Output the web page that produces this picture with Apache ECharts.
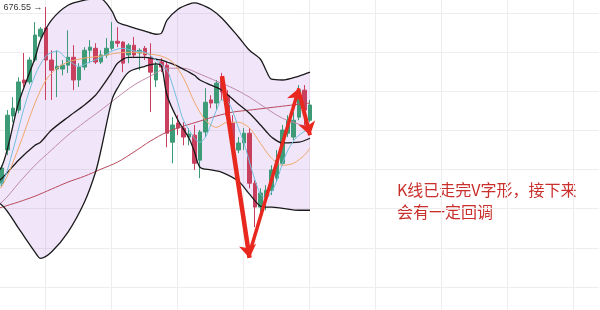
<!DOCTYPE html>
<html>
<head>
<meta charset="utf-8">
<script src="https://cdn.jsdelivr.net/npm/echarts@6/dist/echarts.min.js"></script>
<style>
  html, body { margin: 0; padding: 0; background: #fff; }
  #chart { width: 600px; height: 310px; }
</style>
</head>
<body>
<div id="chart"></div>
<script>
// Three empty slots before the first bar so the averages run in from the left edge.
const LEAD = 3;
const SLOTS = 112;

// Daily bars: [open, close, low, high]
const candles = [
  [631.5, 635.4, 630.5, 636.1],
  [640.0, 648.9, 638.7, 650.2],
  [648.7, 650.7, 647.1, 653.5],
  [650.2, 657.4, 649.4, 658.6],
  [657.9, 657.1, 656.1, 664.8],
  [657.4, 663.0, 656.8, 663.7],
  [663.0, 669.4, 662.5, 672.7],
  [669.1, 670.9, 668.6, 671.4],
  [671.2, 663.0, 652.8, 676.55],
  [663.0, 660.4, 652.8, 665.5],
  [660.7, 661.4, 653.5, 665.5],
  [660.7, 661.7, 659.1, 663.0],
  [661.7, 663.7, 659.7, 670.6],
  [663.7, 657.9, 655.3, 666.8],
  [657.9, 661.2, 656.1, 662.2],
  [661.2, 665.5, 660.4, 666.3],
  [665.5, 666.3, 662.2, 668.1],
  [666.0, 662.5, 662.0, 667.3],
  [662.5, 664.3, 662.0, 665.5],
  [664.3, 666.0, 663.5, 668.6],
  [666.0, 667.8, 665.5, 672.7],
  [667.8, 667.3, 666.3, 671.4],
  [667.6, 662.2, 659.9, 667.8],
  [664.3, 666.8, 662.2, 667.3],
  [666.8, 664.3, 663.5, 668.9],
  [664.8, 665.5, 660.4, 666.0],
  [666.0, 664.3, 663.0, 666.6],
  [663.5, 659.9, 649.7, 667.3],
  [657.9, 661.7, 656.1, 662.5],
  [662.5, 661.2, 659.9, 663.5],
  [661.7, 644.3, 640.7, 662.5],
  [642.0, 646.4, 636.6, 648.4],
  [646.9, 645.6, 643.8, 648.9],
  [645.6, 643.3, 641.2, 647.1],
  [643.3, 644.1, 641.2, 645.6],
  [643.8, 636.6, 634.9, 646.4],
  [637.4, 644.6, 632.8, 645.1],
  [644.6, 652.2, 643.3, 655.8],
  [652.8, 652.0, 650.7, 654.0],
  [652.0, 657.1, 650.2, 657.9],
  [658.4, 654.8, 652.8, 659.7],
  [654.0, 648.9, 646.4, 655.3],
  [646.9, 640.7, 638.7, 648.9],
  [640.0, 641.8, 639.2, 643.3],
  [641.8, 644.3, 640.0, 645.6],
  [644.3, 631.5, 630.2, 645.6],
  [631.5, 625.4, 620.3, 632.3],
  [625.4, 629.0, 624.1, 630.2],
  [627.9, 629.7, 624.6, 631.0],
  [629.7, 634.9, 628.5, 636.1],
  [632.8, 637.4, 631.8, 640.0],
  [636.6, 645.1, 636.1, 646.4],
  [644.3, 647.6, 643.3, 648.9],
  [643.3, 647.6, 642.5, 649.7],
  [648.4, 655.3, 647.6, 656.6],
  [655.3, 650.2, 646.4, 656.6],
  [647.6, 651.5, 647.1, 652.8]
];

// Bollinger band samples, keyed by bar index
const bandIndex  = [-3, 0, 3, 6, 7, 9, 12, 15, 17, 18, 20, 21, 23, 26, 28, 29, 30, 32, 34, 35, 36, 38, 40, 43, 45, 47, 48, 49, 51, 54, 56];
const bandUpper  = [631.8, 635.9, 652.0, 663.5, 668.1, 673.2, 677.0, 678.3, 678.6, 678.6, 675.5, 672.7, 671.7, 670.4, 669.6, 669.9, 673.2, 676.0, 677.3, 677.6, 677.3, 676.0, 673.7, 668.9, 665.5, 663.2, 660.4, 658.1, 657.9, 658.9, 659.9];
const bandMiddle = [629.7, 632.8, 637.4, 641.2, 642.0, 645.1, 648.4, 651.5, 654.0, 655.8, 659.9, 662.2, 663.7, 663.7, 663.2, 663.0, 662.5, 661.4, 659.9, 659.1, 657.9, 656.6, 655.3, 651.7, 649.4, 646.4, 644.8, 643.3, 641.8, 642.0, 643.0];
const bandLower  = [627.2, 625.9, 620.0, 613.9, 612.3, 613.9, 619.0, 626.7, 634.3, 640.0, 652.8, 655.8, 659.9, 661.4, 662.0, 661.4, 654.0, 647.6, 643.0, 639.5, 635.6, 634.9, 634.3, 632.0, 628.7, 625.6, 625.4, 625.4, 625.1, 624.6, 624.6];

// Moving averages: [bar index, value]
const ma5 = [
  [-3, 627.9], [0, 631.5], [2, 640.0], [4, 650.7], [6, 659.1], [8, 664.0], [10, 665.3], [12, 663.0],
  [14, 661.4], [16, 662.5], [18, 663.7], [20, 665.3], [22, 666.0], [24, 665.3], [26, 665.0], [28, 663.0],
  [30, 660.4], [31, 656.6], [32, 652.0], [33, 647.6], [35, 643.0], [36, 642.0], [37, 643.3], [38, 646.6],
  [39, 650.2], [40, 652.8], [41, 652.5], [42, 649.7], [43, 645.6], [44, 641.8], [45, 636.9], [46, 632.3],
  [47, 628.7], [48, 627.7], [49, 629.2], [50, 632.3], [51, 636.6], [52, 640.0], [53, 642.3], [54, 643.8], [56, 645.6]
];
const ma10 = [
  [-3, 627.2], [0, 630.8], [3, 640.5], [6, 652.0], [8, 657.9], [10, 660.9], [12, 662.5], [15, 663.5],
  [18, 664.0], [21, 664.8], [24, 665.0], [27, 664.5], [29, 664.0], [31, 662.5], [33, 658.4], [35, 652.2],
  [37, 647.6], [39, 645.8], [41, 647.1], [43, 647.1], [45, 645.6], [47, 641.7], [49, 637.9], [51, 636.1],
  [53, 636.6], [55, 638.7], [56, 640.5]
];
const ma30 = [
  [-3, 624.6], [0, 626.7], [3, 631.5], [6, 636.1], [9, 640.0], [12, 643.8], [15, 647.1], [18, 650.2],
  [21, 653.5], [24, 656.6], [27, 658.9], [30, 660.9], [33, 660.9], [36, 659.4], [39, 657.6], [42, 655.8],
  [45, 653.5], [48, 650.7], [51, 648.1], [54, 646.6], [56, 645.8]
];
const ma60 = [
  [-3, 624.1], [0, 625.4], [3, 626.7], [6, 628.2], [9, 630.0], [12, 631.8], [15, 633.3], [18, 635.1],
  [21, 636.9], [24, 639.5], [27, 642.3], [30, 644.6], [33, 646.1], [36, 647.4], [39, 648.7], [42, 649.7],
  [45, 650.2], [48, 650.7], [51, 651.2], [54, 651.7], [56, 652.0]
];

// Hand-drawn V path: [from bar, from price, to bar, to price]
const vStrokes = [
  [40, 658.9, 45, 612.4],
  [45, 613.6, 54, 655.8],
  [54, 654.8, 56, 643.8]
];

const note = 'K线已走完V字形，接下来\n会有一定回调';

// ---------- build the chart ----------
const strokeWidths = [4.5, 3.5, 4];
const cats = Array.from({ length: SLOTS }, (_, k) => String(k));
const shift = pts => pts.map(([i, v]) => [i + LEAD, v]);
const band = arr => bandIndex.map((i, n) => [i + LEAD, arr[n]]);
const bandSpread = bandIndex.map((i, n) => [i + LEAD, +(bandUpper[n] - bandLower[n]).toFixed(2)]);

const hidden = { axisLine: { show: false }, axisTick: { show: false }, axisLabel: { show: false } };
const gridLine = { show: true, lineStyle: { color: '#ededed', width: 1 } };

function curve(name, data, color, width) {
  return {
    name, type: 'line', data, symbol: 'none', smooth: 0.3, silent: true,
    lineStyle: { color, width }, z: 3
  };
}

const maFast = curve('MA5', shift(ma5), '#72bfdc', 1);
maFast.markLine = {
  silent: true,
  symbol: ['none', 'arrow'],
  symbolSize: 13,
  label: { show: false },
  lineStyle: { type: 'solid', color: '#e8281e' },
  data: vStrokes.map((s, n) => [
    { coord: [s[0] + LEAD, s[1]], lineStyle: { width: strokeWidths[n], color: '#e8281e', type: 'solid' } },
    { coord: [s[2] + LEAD, s[3]] }
  ])
};

const option = {
  animation: false,
  backgroundColor: '#ffffff',
  grid: [
    { left: -17.25, right: 1.25, top: -26, bottom: -16, outerBoundsMode: 'none', containLabel: false },
    { left: -21, right: -39, top: 0, bottom: 0, outerBoundsMode: 'none', containLabel: false }
  ],
  xAxis: [
    Object.assign({ type: 'category', gridIndex: 0, data: cats, boundaryGap: true, splitLine: { show: false } }, hidden),
    Object.assign({ type: 'value', gridIndex: 1, min: 0, max: 660, interval: 66, splitLine: gridLine }, hidden)
  ],
  yAxis: [
    Object.assign({ type: 'value', gridIndex: 0, min: 595, max: 685, interval: 10, splitLine: gridLine }, hidden),
    Object.assign({ type: 'value', gridIndex: 1, min: 0, max: 1, splitLine: { show: false } }, hidden)
  ],
  graphic: [{
    type: 'text', left: 397, top: 179, silent: true,
    style: {
      text: note, fill: '#c9302c', fontSize: 16, lineHeight: 22,
      fontFamily: '"Noto Sans CJK SC", sans-serif'
    }
  }],
  series: [
    {
      name: 'BOLL base', type: 'line', data: band(bandLower), stack: 'boll',
      symbol: 'none', smooth: 0.3, silent: true, lineStyle: { opacity: 0 }, z: 1
    },
    {
      name: 'BOLL fill', type: 'line', data: bandSpread, stack: 'boll',
      symbol: 'none', smooth: 0.3, silent: true, lineStyle: { opacity: 0 },
      areaStyle: { color: 'rgba(185,125,230,0.2)', opacity: 1 }, z: 1
    },
    {
      name: 'K', type: 'candlestick', barWidth: 4, silent: true, z: 2,
      dimensions: ['slot', 'open', 'close', 'lowest', 'highest'],
      encode: { x: 'slot', y: ['open', 'close', 'lowest', 'highest'] },
      data: candles.map((c, i) => [i + LEAD].concat(c)),
      itemStyle: {
        color: '#3d9b77', color0: '#c9405f',
        borderColor: '#3d9b77', borderColor0: '#c9405f', borderWidth: 1
      },
      markPoint: {
        silent: true,
        symbol: 'circle', symbolSize: 1,
        itemStyle: { color: 'rgba(0,0,0,0)' },
        label: {
          show: true, position: 'left', distance: 3,
          color: '#3a3a3a', fontSize: 9, fontFamily: '"Liberation Sans", Arial, sans-serif',
          formatter: p => p.value + ' →'
        },
        data: [{ type: 'max', valueDim: 'highest' }]
      }
    },
    curve('MA60', shift(ma60), '#b84a5a', 1),
    curve('MA30', shift(ma30), '#c08aaa', 1),
    curve('BOLL upper', band(bandUpper), '#1a1a1a', 1.3),
    curve('BOLL middle', band(bandMiddle), '#1a1a1a', 1.3),
    curve('BOLL lower', band(bandLower), '#1a1a1a', 1.3),
    curve('MA10', shift(ma10), '#f0a86a', 1),
    maFast
  ]
};

const chart = echarts.init(document.getElementById('chart'), null, { renderer: 'canvas' });
chart.setOption(option);
</script>
</body>
</html>
